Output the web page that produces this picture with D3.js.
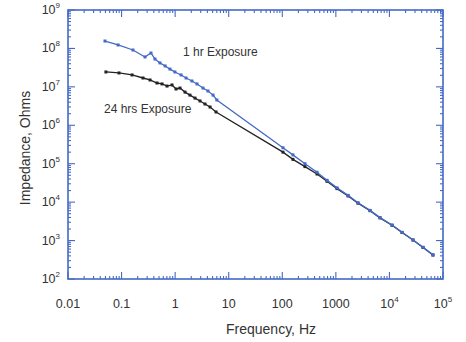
<!DOCTYPE html>
<html>
<head>
<meta charset="utf-8">
<script src="https://cdn.jsdelivr.net/npm/d3@7"></script>
<style>
  body { margin: 0; background: #fff; }
  text { font-family: "Liberation Sans", Arial, sans-serif; fill: #333; }
</style>
</head>
<body>
<script>
var width = 466,
    height = 342;

// 1 hr exposure (blue)
var freq1hr = [0.049, 0.086, 0.163, 0.274, 0.354, 0.42, 0.52, 0.65, 0.80, 0.99, 1.29, 1.6, 2.06, 2.56, 3.31, 4.1, 5.1, 6.0,
               103, 158, 265, 445, 683, 1050, 1690, 2590, 4340, 6660, 11200, 17200, 27600, 42400, 65000];
var z1hr = [1.56e8, 1.23e8, 9.1e7, 6.0e7, 7.6e7, 5.3e7, 4.2e7, 3.5e7, 2.9e7, 2.44e7, 2.04e7, 1.7e7, 1.42e7, 1.19e7, 9.3e6, 7.8e6, 6.1e6, 4.55e6,
            2.6e5, 1.7e5, 1.0e5, 6.0e4, 3.7e4, 2.35e4, 1.5e4, 9600, 6100, 3950, 2530, 1640, 1040, 670, 425];

// 24 hrs exposure (black)
var freq24hr = [0.051, 0.0895, 0.157, 0.251, 0.34, 0.458, 0.569, 0.705, 0.874, 1.04, 1.23, 1.53, 1.89, 2.35, 2.91, 3.61, 4.48, 5.8,
                103, 158, 265, 445, 683, 1050, 1690, 2590, 4340, 6660, 11200, 17200, 27600, 42400, 65000];
var z24hr = [2.44e7, 2.3e7, 2.04e7, 1.7e7, 1.51e7, 1.26e7, 1.19e7, 1.05e7, 1.12e7, 8.8e6, 9.3e6, 7.3e6, 6.1e6, 5.1e6, 4.3e6, 3.58e6, 2.99e6, 2.22e6,
             2.0e5, 1.3e5, 8.4e4, 5.4e4, 3.5e4, 2.25e4, 1.45e4, 9400, 6000, 3900, 2500, 1620, 1030, 660, 420];

var xTickVals = [0.01, 0.1, 1, 10, 100, 1000, 1e4, 1e5],
    xTickText = ['0.01', '0.1', '1', '10', '100', '1000', '10|4', '10|5'];
var yTickVals = [1e2, 1e3, 1e4, 1e5, 1e6, 1e7, 1e8, 1e9],
    yTickText = ['10|2', '10|3', '10|4', '10|5', '10|6', '10|7', '10|8', '10|9'];

var blue = '#4469c6';

var x = d3.scaleLog().domain([0.01, 1e5]).range([68, 443]);
var y = d3.scaleLog().domain([1e2, 1e9]).range([279, 10]);

var svg = d3.select('body').append('svg')
  .attr('width', width)
  .attr('height', height);

// minor + major tick positions
function logTicks(lo, hi) {
  var out = [];
  for (var e = lo; e < hi; e++) {
    for (var m = 1; m < 10; m++) out.push({v: m * Math.pow(10, e), major: m === 1});
  }
  out.push({v: Math.pow(10, hi), major: true});
  return out;
}
var xt = logTicks(-2, 5),
    yt = logTicks(2, 9);

var axes = svg.append('g').attr('stroke', blue).attr('stroke-width', 1.1);

axes.selectAll('.xb').data(xt).enter().append('line')
  .attr('x1', function(d) { return x(d.v); }).attr('x2', function(d) { return x(d.v); })
  .attr('y1', 279).attr('y2', function(d) { return d.major ? 272 : 276; });
axes.selectAll('.xt').data(xt).enter().append('line')
  .attr('x1', function(d) { return x(d.v); }).attr('x2', function(d) { return x(d.v); })
  .attr('y1', 10).attr('y2', function(d) { return d.major ? 17 : 13; });
axes.selectAll('.yl').data(yt).enter().append('line')
  .attr('y1', function(d) { return y(d.v); }).attr('y2', function(d) { return y(d.v); })
  .attr('x1', 68).attr('x2', function(d) { return d.major ? 75 : 71; });
axes.selectAll('.yr').data(yt).enter().append('line')
  .attr('y1', function(d) { return y(d.v); }).attr('y2', function(d) { return y(d.v); })
  .attr('x1', 443).attr('x2', function(d) { return d.major ? 436 : 440; });

svg.append('rect')
  .attr('x', 68).attr('y', 10)
  .attr('width', 443 - 68).attr('height', 279 - 10)
  .attr('fill', 'none').attr('stroke', blue).attr('stroke-width', 1.6);

// tick labels, "10|n" means 10 with superscript n
function label(sel, t) {
  var p = t.split('|');
  sel.append('tspan').text(p[0]);
  if (p[1]) sel.append('tspan').attr('dy', -6).attr('font-size', 8).text(p[1]);
}

svg.selectAll('.xlab').data(xTickVals).enter().append('text')
  .attr('x', function(d) { return x(d); })
  .attr('y', 308)
  .attr('text-anchor', 'middle')
  .attr('font-size', 12.5)
  .each(function(d, i) { label(d3.select(this), xTickText[i]); });

svg.selectAll('.ylab').data(yTickVals).enter().append('text')
  .attr('x', 60)
  .attr('y', function(d) { return y(d) + 4; })
  .attr('text-anchor', 'end')
  .attr('font-size', 12.5)
  .each(function(d, i) { label(d3.select(this), yTickText[i]); });

svg.append('text')
  .attr('x', 271).attr('y', 334)
  .attr('text-anchor', 'middle')
  .attr('font-size', 14)
  .text('Frequency, Hz');

svg.append('text')
  .attr('transform', 'translate(30,148) rotate(-90)')
  .attr('text-anchor', 'middle')
  .attr('font-size', 14)
  .text('Impedance, Ohms');

// series
var line = d3.line()
  .x(function(d) { return x(d[0]); })
  .y(function(d) { return y(d[1]); });

function series(fs, zs, color) {
  var pts = fs.map(function(f, i) { return [f, zs[i]]; });
  svg.append('path').datum(pts)
    .attr('d', line)
    .attr('fill', 'none')
    .attr('stroke', color)
    .attr('stroke-width', 1.3);
  svg.selectAll(null).data(pts).enter().append('rect')
    .attr('x', function(d) { return x(d[0]) - 1.5; })
    .attr('y', function(d) { return y(d[1]) - 1.5; })
    .attr('width', 3).attr('height', 3)
    .attr('fill', color);
}
series(freq24hr, z24hr, '#222');
series(freq1hr, z1hr, blue);

svg.append('text')
  .attr('x', 183).attr('y', 56)
  .attr('font-size', 12)
  .text('1 hr Exposure');

svg.append('text')
  .attr('x', 104).attr('y', 113)
  .attr('font-size', 12)
  .text('24 hrs Exposure');
</script>
</body>
</html>
